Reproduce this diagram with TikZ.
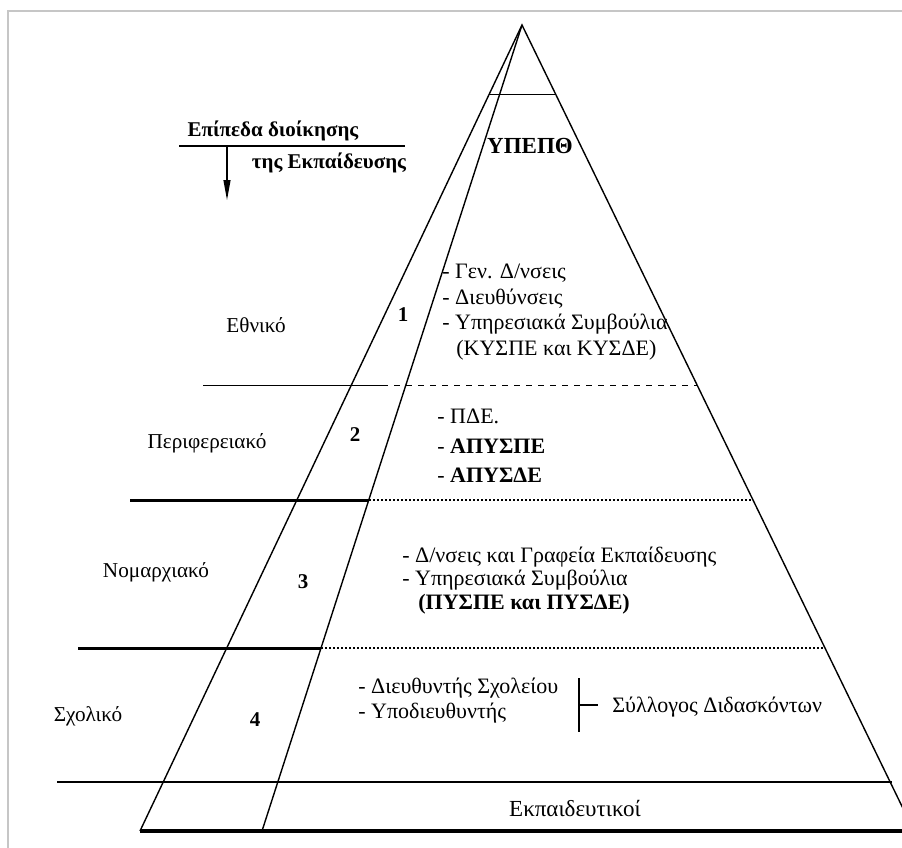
\documentclass[tikz,border=0pt]{standalone}
\usepackage{fontspec}
\setmainfont{Liberation Serif}
\usetikzlibrary{arrows.meta,positioning,calc}
\begin{document}
\begin{tikzpicture}[x=0.5pt,y=-0.5pt,
  every node/.style={font=\fontsize{11}{13}\selectfont,inner sep=0pt},
  lvl/.style={anchor=center,font=\fontsize{10.6}{12}\selectfont},
  num/.style={font=\fontsize{10.5}{12}\selectfont\bfseries},
  item/.style={anchor=base west},
  edge/.style={line width=0.7pt},
  thin sep/.style={line width=0.5pt},
  thick sep/.style={line width=1.5pt},
  arr/.style={-{Triangle[length=10pt,width=3.5pt]},line width=0.6pt}]
\path[use as bounding box] (0,0) rectangle (902,848);
\clip (0,0) rectangle (902,848);
\draw[gray!45,line width=0.6pt] (8,848) -- (8,11) -- (902,11);
% piramida
\coordinate (apex) at (522,25);
\coordinate (bl) at (140,831);
\coordinate (bi) at (262,831);
\coordinate (br) at (914,831);
\draw[edge] (bl) -- (apex) -- (br);
\draw[edge] (apex) -- (bi);
\draw[thin sep] (489,94) -- (556,94);
\draw[thin sep] (203,385) -- (382,385);
\draw[thin sep,dashed] (382,385) -- (697,385);
\draw[thick sep] (130,500) -- (369,500);
\draw[line width=1pt,densely dotted] (369,500) -- (753,500);
\draw[thick sep] (78,648) -- (321,648);
\draw[line width=1pt,densely dotted] (321,648) -- (825,648);
\draw[line width=1.2pt] (57,782) -- (892,782);
\draw[line width=1.6pt] (bl) -- (902,831);
% titlos
\node[lvl,font=\fontsize{10.5}{12}\selectfont\bfseries] (tit1) at (273,131) {Επίπεδα διοίκησης};
\node[lvl,font=\fontsize{10.5}{12}\selectfont\bfseries] (tit2) at (329,163) {της Εκπαίδευσης};
\coordinate (ul1) at (179,146);
\coordinate (ul2) at (405,146);
\coordinate (at) at (227,146);
\coordinate (ab) at (227,200);
\draw[line width=0.6pt] (ul1) -- (ul2);
\draw[arr] (at) -- (ab);
\node[lvl,font=\fontsize{11.5}{12}\selectfont\bfseries] (ypepth) at (530,146) {ΥΠΕΠΘ};
% epipeda
\node[lvl] (ethn) at (256,325) {Εθνικό};
\node[lvl] (perif) at (207,443) {Περιφερειακό};
\node[lvl] (nomar) at (156,572) {Νομαρχιακό};
\node[lvl] (sxol) at (88,716) {Σχολικό};
\node[num] (n1) at (403,315) {1};
\node[num] (n2) at (355,435) {2};
\node[num] (n3) at (303,582) {3};
\node[num] (n4) at (255,720) {4};
\node[item] (a1) at (442,278) {- Γεν. Δ/νσεις};
\node[item] (a2) at (442,304) {- Διευθύνσεις};
\node[item] (a3) at (442,329) {- Υπηρεσιακά Συμβούλια};
\node[item] (a4) at (456,355) {(ΚΥΣΠΕ και ΚΥΣΔΕ)};
\node[item] (b1) at (437,423) {- ΠΔΕ.};
\node[item] (b2) at (437,453) {- \textbf{ΑΠΥΣΠΕ}};
\node[item] (b3) at (437,482) {- \textbf{ΑΠΥΣΔΕ}};
\node[item] (c1) at (402,562) {- Δ/νσεις και Γραφεία Εκπαίδευσης};
\node[item] (c2) at (402,585) {- Υπηρεσιακά Συμβούλια};
\node[item] (c3) at (418,609) {\textbf{(ΠΥΣΠΕ και ΠΥΣΔΕ)}};
\node[item] (d1) at (358,693) {- Διευθυντής Σχολείου};
\node[item] (d2) at (358,718) {- Υποδιευθυντής};
\node[anchor=west] (syl) at (612,707) {Σύλλογος Διδασκόντων};
\coordinate (bt) at (579,678);
\coordinate (bb) at (579,732);
\coordinate (bm) at (579,705);
\draw[line width=0.6pt] (bt) -- (bb);
\draw[line width=0.6pt,shorten >=7pt] (bm) -- (bm -| syl.west);
\node[lvl,font=\fontsize{11.5}{13}\selectfont] (ekp) at (575,808) {Εκπαιδευτικοί};
\end{tikzpicture}
\end{document}
